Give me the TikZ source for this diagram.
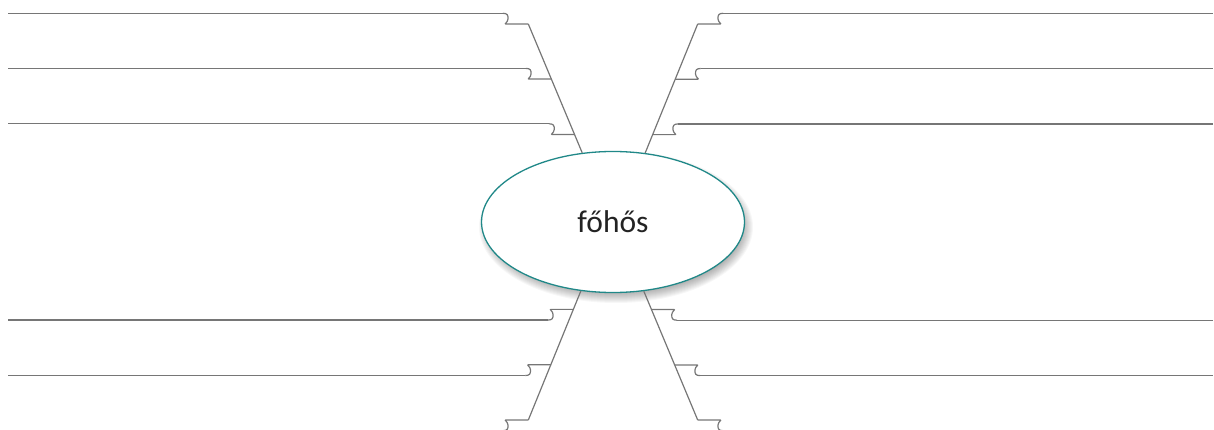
\documentclass[tikz,border=0pt]{standalone}
\usepackage{fontspec}
\setmainfont{Carlito}
\usetikzlibrary{shapes.geometric,calc}
\definecolor{legGray}{RGB}{118,118,118}
\definecolor{rimTeal}{RGB}{32,136,136}
\definecolor{txtDark}{RGB}{35,35,35}
\tikzset{
  leg/.style={draw=legGray, line width=1.2pt, line join=round},
  hook/.pic={
    \draw[leg] (0,0) -- (-22.5,0)
      .. controls (-24.5,0) and (-20.5,-1.5) .. (-20.3,-5)
      .. controls (-20.1,-9) and (-21,-10.7) .. (-25.5,-10.7);
    \coordinate (-top) at (-25.5,-10.7);
  },
  hero/.style={ellipse, draw=rimTeal, line width=1.3pt, fill=white,
    minimum width=263pt, minimum height=141pt, inner sep=0pt,
    text=txtDark, font=\fontsize{31.5}{31.5}\selectfont}
}
\begin{document}
\begin{tikzpicture}[x=1pt,y=-1pt]
\useasboundingbox (0,0) rectangle (1214,430);
% soft shadow
\foreach \k in {0,...,11}{
  \fill[black, fill opacity=0.03] (616,227) ellipse [x radius={126pt+\k pt}, y radius={65pt+\k pt}];
}
\node[hero] (main) at (613,222) {főhős};
% side limits
\coordinate (lx) at (7.5,0);
\coordinate (rx) at (1213,0);
% diagonal legs
\coordinate (UL1) at (528.3,24);
\coordinate (UR1) at (697.7,24);
\coordinate (DL1) at (528.3,420);
\coordinate (DR1) at (697.7,420);
\coordinate (ULe) at (main.114.2);
\coordinate (URe) at (main.65.8);
\coordinate (DLe) at (main.245.8);
\coordinate (DRe) at (main.294.2);
\draw[leg] (UL1) -- (ULe);
\draw[leg] (UR1) -- (URe);
\draw[leg] (DL1) -- (DLe);
\draw[leg] (DR1) -- (DRe);
\foreach \s in {UL,UR,DL,DR}{
  \coordinate (\s2) at ($(\s1)!0.4277!(\s e)$);
  \coordinate (\s3) at ($(\s1)!0.8577!(\s e)$);
}
% hooks
\foreach \i in {1,2,3}{
  \pic (hul\i) at (UL\i) {hook};
  \pic[xscale=-1] (hur\i) at (UR\i) {hook};
  \pic[yscale=-1] (hdl\i) at (DL\i) {hook};
  \pic[xscale=-1,yscale=-1] (hdr\i) at (DR\i) {hook};
}
% long lines
\foreach \i in {1,2,3}{
  \draw[leg] (hul\i-top) -- (hul\i-top -| lx);
  \draw[leg] (hur\i-top) -- (hur\i-top -| rx);
}
\foreach \i in {2,3}{
  \draw[leg] (hdl\i-top) -- (hdl\i-top -| lx);
  \draw[leg] (hdr\i-top) -- (hdr\i-top -| rx);
}
\end{tikzpicture}
\end{document}
